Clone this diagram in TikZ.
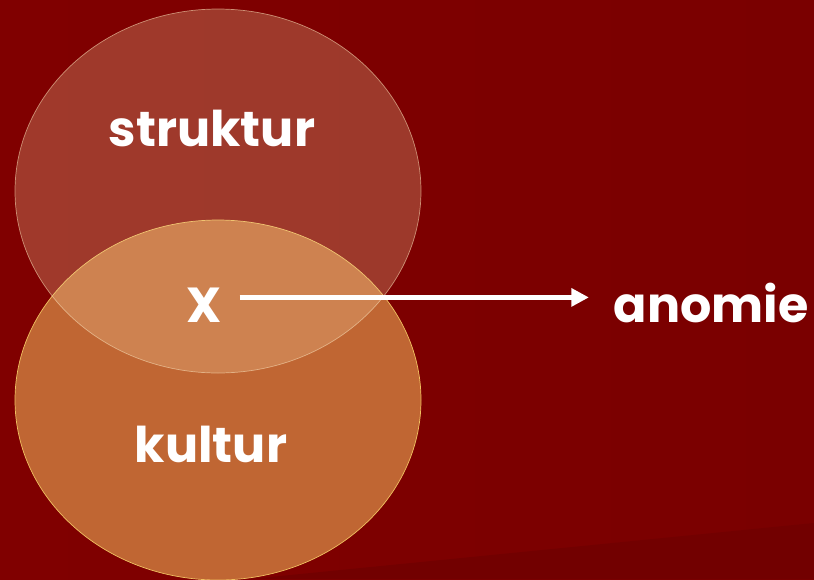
\documentclass[tikz,border=0pt]{standalone}
\usepackage{fontspec}
\setmainfont{Poppins}
\usetikzlibrary{arrows.meta}
\definecolor{bgred}{RGB}{128,0,0}
\definecolor{bgdark}{RGB}{114,0,0}
\definecolor{kulturfill}{RGB}{192,102,51}
\definecolor{kulturline}{RGB}{240,192,96}
\definecolor{strukturfill}{RGB}{243,206,157}
\tikzset{
  label/.style = {text = white, font = \fontsize{28}{34}\selectfont\bfseries, inner sep = 0pt},
  pfeil/.style = {draw = white, line width = 3.2pt, -{Triangle[length = 10pt, width = 10pt]}}
}
\begin{document}
\begin{tikzpicture}[x = 0.02cm, y = -0.02cm]
   \fill[left color = bgred, right color = {rgb,255:red,122;green,0;blue,0}] (0,0) rectangle (814,579);
   \fill[bgdark] (250,579) -- (814,523) -- (814,579) -- cycle;
   \useasboundingbox (0,0) rectangle (814,579);
   \draw[kulturline, fill = kulturfill] (218,400) ellipse [x radius = 203, y radius = 180];
   \draw[strukturfill!80!white, fill = strukturfill, fill opacity = 0.28, draw opacity = 0.6] (218,191) ellipse [x radius = 203, y radius = 182];
   \node[label, anchor = base] (struktur) at (212,146) {struktur};
   \node[label, anchor = base] (kultur) at (211,462) {kultur};
   \node[label, anchor = base] (xmark) at (204,322) {X};
   \node[label, anchor = base east] (anomie) at (809,322) {anomie};
   \draw[pfeil, shorten < = 10pt, shorten > = 14pt] ([yshift = 14pt]xmark.base east) -- ([yshift = 14pt]anomie.base west);
\end{tikzpicture}
\end{document}
